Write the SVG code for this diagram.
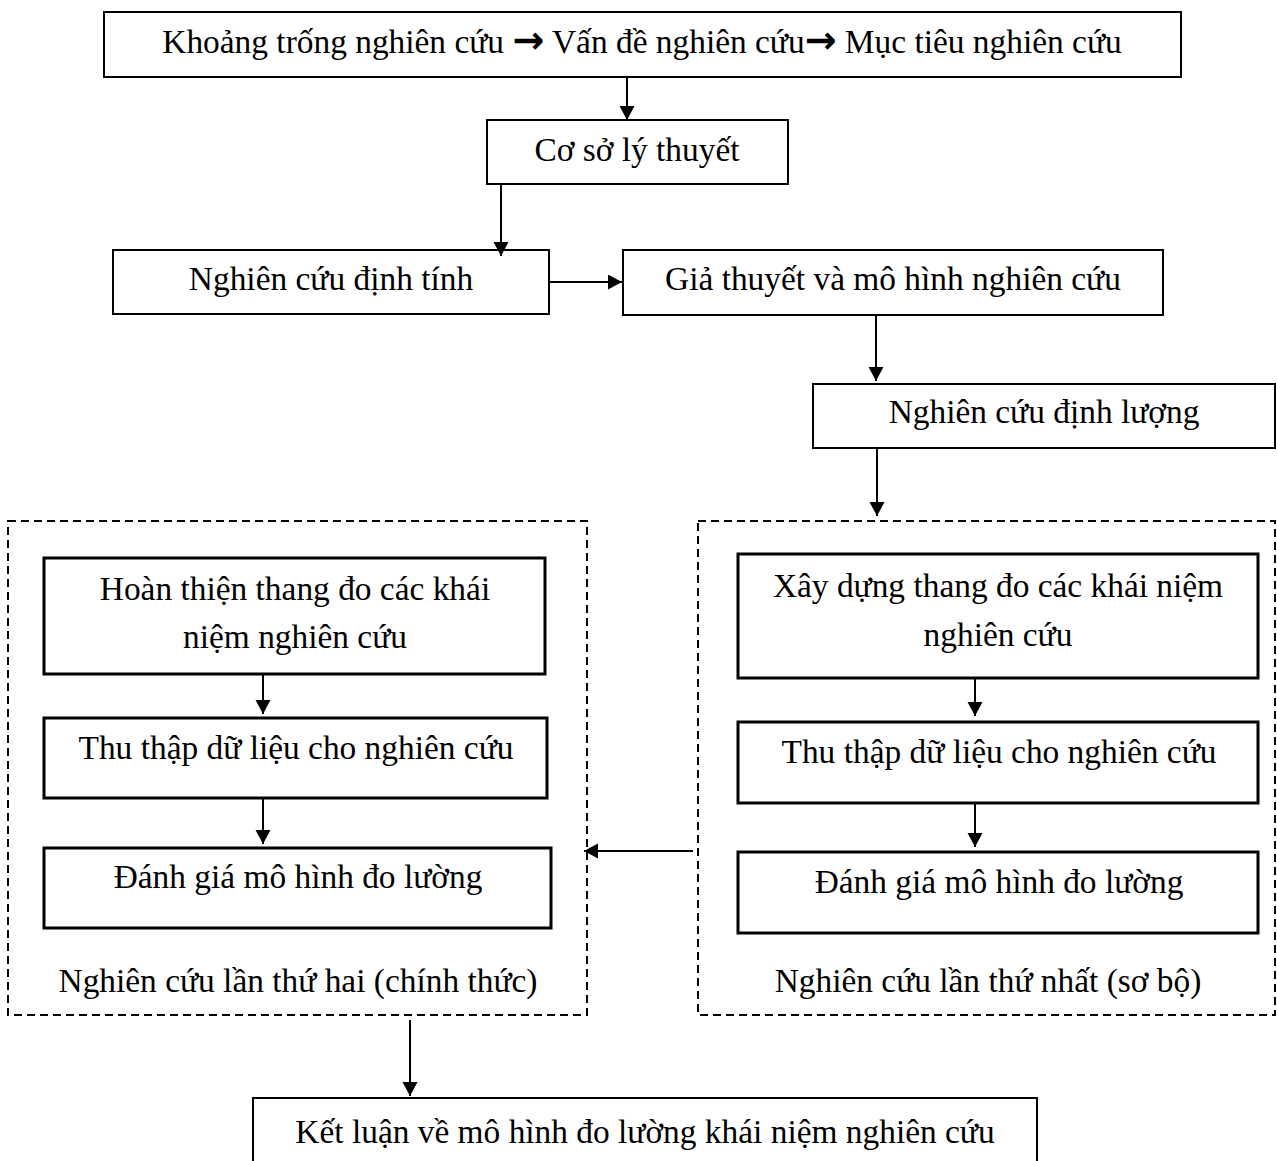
<svg xmlns="http://www.w3.org/2000/svg" width="1277" height="1161" viewBox="0 0 1277 1161">
  <style>
    .box { fill: #fff; stroke: #000; stroke-width: 2; }
    .inner { fill: #fff; stroke: #000; stroke-width: 3; }
    .group { fill: none; stroke: #000; stroke-width: 2; stroke-dasharray: 8 5; }
    .lbl { font-family: "Liberation Serif", "Times New Roman", serif; font-size: 33.4px; fill: #000; text-anchor: middle; }
    .arw { font-family: "DejaVu Sans", sans-serif; font-weight: bold; font-size: 38px; }
    .edge { fill: none; stroke: #000; stroke-width: 2; marker-end: url(#head); }
  </style>
  <defs>
    <marker id="head" markerUnits="userSpaceOnUse" markerWidth="15" markerHeight="16" refX="14" refY="7.5" orient="auto">
      <path d="M0,0 L14,7.5 L0,15 Z" fill="#000"/>
    </marker>
  </defs>
  <rect width="1277" height="1161" fill="#fff"/>

  <!-- dashed study-phase containers -->
  <g id="phase-two">
    <rect class="group" x="8" y="521" width="579" height="494"/>
    <text class="lbl" x="298" y="992">Nghiên cứu lần thứ hai (chính thức)</text>
  </g>
  <g id="phase-one">
    <rect class="group" x="698" y="521" width="577" height="494"/>
    <text class="lbl" x="988" y="992">Nghiên cứu lần thứ nhất (sơ bộ)</text>
  </g>

  <g id="gap">
    <rect class="box" x="104" y="12" width="1077" height="65"/>
    <text class="lbl" x="642" y="53">Khoảng trống nghiên cứu <tspan class="arw">→</tspan> Vấn đề nghiên cứu<tspan class="arw">→</tspan> Mục tiêu nghiên cứu</text>
  </g>
  <g id="theory">
    <rect class="box" x="487" y="120" width="301" height="64"/>
    <text class="lbl" x="637" y="161">Cơ sở lý thuyết</text>
  </g>
  <g id="qualitative">
    <rect class="box" x="113" y="250" width="436" height="64"/>
    <text class="lbl" x="331" y="290">Nghiên cứu định tính</text>
  </g>
  <g id="hypotheses">
    <rect class="box" x="623" y="250" width="540" height="65"/>
    <text class="lbl" x="893" y="290">Giả thuyết và mô hình nghiên cứu</text>
  </g>
  <g id="quantitative">
    <rect class="box" x="813" y="384" width="462" height="64"/>
    <text class="lbl" x="1044" y="423">Nghiên cứu định lượng</text>
  </g>

  <g id="refine-scales">
    <rect class="inner" x="44" y="558" width="501" height="116"/>
    <text class="lbl" x="295" y="600">Hoàn thiện thang đo các khái</text>
    <text class="lbl" x="295" y="648">niệm nghiên cứu</text>
  </g>
  <g id="collect-two">
    <rect class="inner" x="44" y="718" width="503" height="80"/>
    <text class="lbl" x="296" y="759">Thu thập dữ liệu cho nghiên cứu</text>
  </g>
  <g id="assess-two">
    <rect class="inner" x="44" y="848" width="507" height="80"/>
    <text class="lbl" x="298" y="888">Đánh giá mô hình đo lường</text>
  </g>

  <g id="build-scales">
    <rect class="inner" x="738" y="554" width="520" height="124"/>
    <text class="lbl" x="998" y="597">Xây dựng thang đo các khái niệm</text>
    <text class="lbl" x="998" y="646">nghiên cứu</text>
  </g>
  <g id="collect-one">
    <rect class="inner" x="738" y="722" width="520" height="81"/>
    <text class="lbl" x="999" y="763">Thu thập dữ liệu cho nghiên cứu</text>
  </g>
  <g id="assess-one">
    <rect class="inner" x="738" y="852" width="520" height="81"/>
    <text class="lbl" x="999" y="893">Đánh giá mô hình đo lường</text>
  </g>

  <g id="conclusion">
    <rect class="box" x="253" y="1098" width="784" height="80"/>
    <text class="lbl" x="645" y="1143">Kết luận về mô hình đo lường khái niệm nghiên cứu</text>
  </g>

  <!-- connectors -->
  <g id="connectors">
    <path class="edge" d="M627,77 V120"/>
    <path class="edge" d="M501,184 V256"/>
    <path class="edge" d="M549,282 H622"/>
    <path class="edge" d="M876,315 V381"/>
    <path class="edge" d="M877,448 V516"/>
    <path class="edge" d="M975,678 V716"/>
    <path class="edge" d="M975,803 V847"/>
    <path class="edge" d="M263,674 V714"/>
    <path class="edge" d="M263,798 V844"/>
    <path class="edge" d="M693,851 H584"/>
    <path class="edge" d="M410,1020 V1096"/>
  </g>
</svg>
